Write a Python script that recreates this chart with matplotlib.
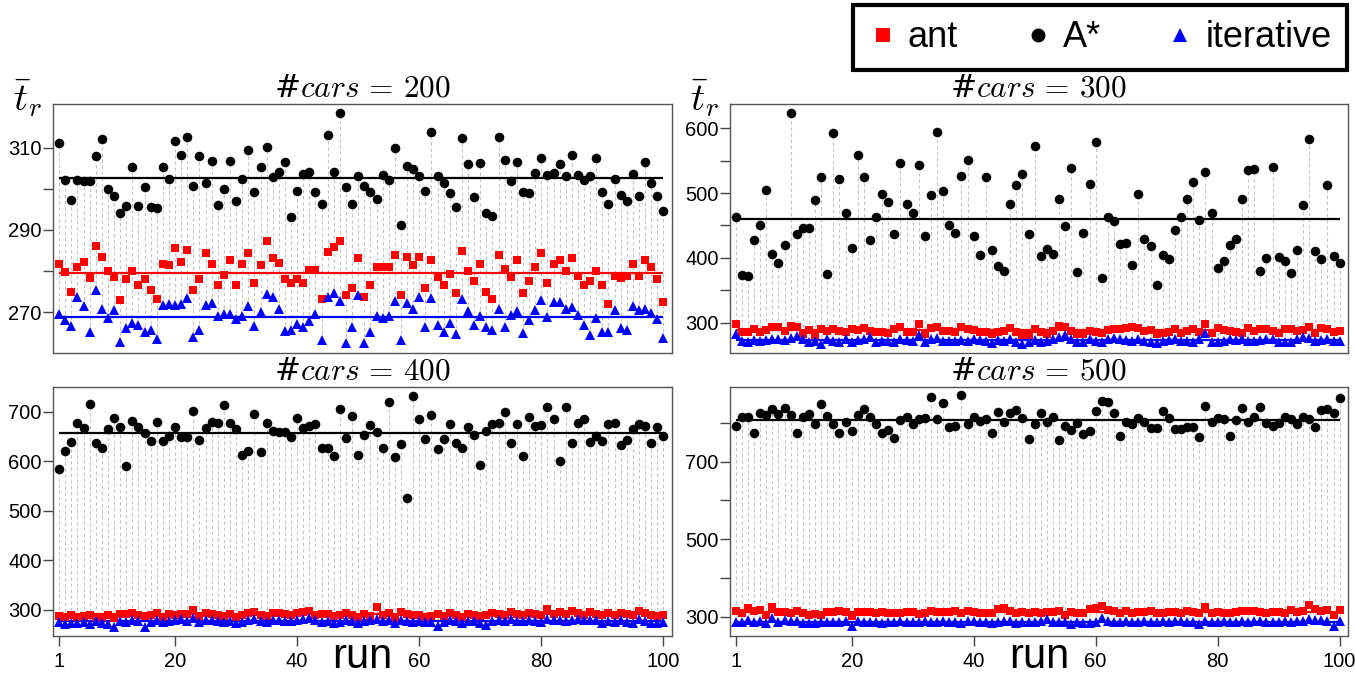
import numpy as np
import matplotlib
matplotlib.use("Agg")
import matplotlib.pyplot as plt
from matplotlib.lines import Line2D

plt.rcParams['font.family'] = ['Liberation Sans', 'DejaVu Sans']
plt.rcParams['mathtext.fontset'] = 'cm'

runs = np.arange(1, 101)

# ---- #cars = 200 ----
ant_200 = [281.7, 279.7, 275.0, 281.0, 282.1, 278.2, 286.2, 283.5, 280.1, 278.5,
           273.0, 278.0, 280.1, 276.6, 278.0, 275.5, 273.3, 281.8, 281.4, 285.6,
           282.1, 285.2, 275.5, 278.0, 284.3, 281.6, 276.7, 279.1, 282.8, 276.5,
           281.8, 284.3, 277.0, 281.4, 287.3, 283.2, 282.0, 278.0, 277.2, 278.0,
           277.2, 280.2, 280.2, 273.3, 284.6, 285.9, 287.4, 274.1, 276.0, 283.1,
           273.6, 276.5, 280.9, 280.9, 280.9, 283.8, 274.3, 283.5, 281.4, 283.5,
           276.0, 282.6, 278.5, 276.5, 279.2, 274.6, 284.8, 279.9, 277.7, 281.6,
           274.8, 273.3, 284.0, 280.6, 278.5, 282.6, 274.6, 277.7, 281.1, 284.3,
           277.0, 281.8, 282.8, 279.9, 283.3, 278.7, 276.7, 277.5, 279.9, 276.5,
           272.1, 278.9, 278.3, 278.7, 281.8, 278.7, 282.8, 280.9, 278.0, 272.4]
astar_200 = [311.1, 302.1, 297.2, 302.1, 302.0, 302.0, 308.0, 312.0, 300.0, 298.2,
             294.2, 295.8, 305.2, 295.9, 300.4, 295.6, 295.4, 305.4, 302.3, 311.7,
             308.1, 312.5, 300.6, 307.9, 301.3, 306.8, 296.1, 299.9, 306.8, 297.1,
             302.4, 309.3, 299.2, 305.4, 310.2, 302.9, 304.1, 306.4, 293.2, 299.5,
             303.5, 304.1, 299.1, 296.3, 313.1, 304.0, 318.3, 300.5, 296.4, 303.1,
             300.7, 299.2, 297.5, 303.4, 302.2, 310.0, 291.3, 305.6, 304.8, 303.0,
             299.4, 313.7, 303.0, 301.5, 298.9, 295.6, 312.3, 306.0, 297.9, 306.2,
             294.1, 293.4, 312.5, 307.1, 302.0, 306.4, 299.3, 298.9, 303.9, 307.5,
             303.4, 303.8, 306.0, 303.0, 308.2, 303.4, 302.1, 303.2, 307.5, 299.3,
             296.4, 302.4, 298.6, 297.0, 303.5, 298.3, 306.4, 301.3, 298.2, 294.6]
iter_200 = [269.5, 268.0, 266.6, 273.6, 271.5, 265.2, 275.5, 270.8, 268.5, 270.5,
            262.8, 266.1, 267.5, 267.0, 265.2, 265.7, 263.6, 271.8, 272.0, 271.8,
            272.1, 273.4, 264.0, 265.7, 271.8, 272.2, 269.1, 269.5, 269.6, 268.3,
            269.1, 271.4, 266.7, 270.1, 274.5, 273.8, 270.9, 265.4, 265.7, 267.2,
            266.4, 267.8, 269.5, 263.2, 273.6, 274.6, 272.7, 262.5, 266.5, 274.2,
            262.5, 265.2, 269.2, 268.7, 269.1, 272.7, 263.3, 272.2, 270.8, 273.8,
            266.3, 273.4, 266.8, 265.3, 267.5, 264.6, 273.3, 270.2, 267.0, 269.2,
            266.3, 265.7, 270.8, 266.5, 269.4, 270.3, 264.9, 268.2, 270.6, 272.9,
            268.8, 272.5, 272.6, 270.7, 271.3, 269.4, 266.9, 264.5, 268.6, 265.2,
            265.3, 270.5, 266.1, 265.7, 271.5, 270.6, 270.8, 269.9, 268.4, 263.7]

# ---- #cars = 300 ----
ant_300 = [298.0, 286.7, 285.7, 290.8, 286.7, 289.3, 294.4, 293.4, 287.7, 295.9,
           294.4, 283.6, 288.8, 281.6, 290.3, 287.7, 290.3, 287.7, 286.7, 290.3,
           288.8, 291.8, 287.7, 285.7, 285.7, 284.1, 290.3, 294.4, 286.7, 286.7,
           298.0, 283.6, 291.8, 293.4, 287.7, 287.7, 286.7, 294.4, 290.3, 289.3,
           286.7, 286.7, 283.6, 286.7, 287.7, 291.8, 286.7, 282.0, 281.0, 290.0,
           286.0, 283.0, 288.0, 295.0, 294.0, 288.0, 283.0, 283.0, 288.0, 286.0,
           284.0, 289.0, 291.0, 291.0, 292.0, 294.0, 293.0, 287.0, 289.0, 283.0,
           284.0, 286.0, 290.0, 284.0, 287.0, 290.0, 286.0, 298.0, 285.0, 292.0,
           289.0, 288.0, 286.0, 284.0, 293.0, 287.0, 290.0, 291.0, 288.0, 285.0,
           290.0, 290.0, 287.0, 289.0, 294.0, 285.0, 292.0, 290.0, 286.0, 288.0]
astar_300 = [462.9, 373.5, 372.5, 427.9, 450.5, 504.5, 406.9, 393.0, 419.7, 623.1,
             436.2, 445.4, 445.4, 488.5, 525.0, 376.1, 591.8, 521.9, 469.0, 416.1,
             558.9, 525.0, 427.4, 462.9, 498.3, 486.5, 436.2, 546.6, 482.4, 469.0,
             543.0, 433.1, 496.3, 593.8, 503.4, 451.1, 437.7, 526.6, 551.2, 433.6,
             404.8, 524.5, 412.5, 388.4, 379.7, 483.4, 512.2, 529.1, 436.2, 571.8,
             402.3, 414.6, 406.9, 491.1, 449.5, 537.9, 378.1, 439.2, 514.2, 577.9,
             368.9, 462.4, 456.2, 421.8, 423.8, 389.4, 497.8, 429.0, 418.7, 358.1,
             404.8, 398.2, 443.3, 462.9, 490.6, 517.3, 457.7, 531.7, 469.5, 384.3,
             396.1, 420.2, 429.0, 490.6, 535.3, 536.3, 380.2, 400.7, 539.4, 401.7,
             395.1, 377.6, 412.5, 480.8, 582.5, 411.5, 398.7, 512.7, 403.3, 392.5]
iter_300 = [283, 272, 271, 274, 273, 274, 275, 276, 274, 277,
            280, 276, 270, 273, 268, 275, 272, 271, 276, 270,
            274, 275, 279, 271, 273, 272, 270, 276, 274, 273,
            282, 271, 276, 277, 272, 272, 273, 274, 272, 275,
            274, 273, 269, 274, 273, 276, 270, 268, 270, 274,
            271, 272, 276, 279, 282, 275, 271, 270, 275, 272,
            270, 276, 277, 275, 274, 272, 276, 273, 270, 269,
            272, 274, 276, 273, 272, 271, 275, 284, 271, 270,
            272, 275, 274, 276, 273, 272, 274, 276, 275, 271,
            270, 270, 275, 279, 277, 273, 274, 275, 272, 273]

# ---- #cars = 400 ----
ant_400 = [288, 285, 289, 286, 287, 290, 285, 286, 289, 283,
           292, 291, 293, 289, 287, 290, 293, 286, 291, 290,
           291, 292, 300, 287, 293, 291, 290, 287, 292, 286,
           289, 293, 296, 290, 287, 293, 294, 291, 290, 293,
           295, 297, 290, 292, 292, 288, 290, 293, 289, 286,
           292, 288, 306, 290, 294, 284, 296, 291, 289, 290,
           285, 288, 291, 287, 293, 290, 286, 292, 289, 288,
           290, 293, 292, 289, 296, 291, 289, 293, 292, 290,
           302, 291, 296, 292, 297, 294, 290, 295, 292, 290,
           293, 290, 294, 292, 289, 297, 293, 290, 288, 289]
astar_400 = [584.2, 621.2, 638.7, 676.4, 667.0, 715.5, 637.4, 626.6, 664.3, 687.2,
             668.4, 590.2, 681.8, 668.4, 657.6, 640.7, 679.1, 640.7, 650.2, 668.4,
             649.5, 649.5, 702.0, 642.1, 667.7, 679.1, 676.4, 713.5, 676.4, 664.3,
             611.8, 619.9, 696.0, 617.8, 676.4, 661.6, 658.2, 659.6, 648.1, 686.5,
             667.7, 670.4, 674.4, 627.3, 625.9, 611.1, 706.1, 647.5, 691.0, 613.0,
             652.9, 673.7, 659.6, 627.3, 718.9, 608.4, 634.0, 525.6, 732.3, 685.9,
             644.8, 693.9, 625.3, 644.8, 675.1, 636.0, 625.9, 669.0, 653.5, 592.3,
             661.0, 675.1, 677.1, 699.3, 636.7, 675.8, 611.1, 689.9, 671.7, 672.4,
             709.4, 685.2, 601.0, 708.8, 636.7, 677.1, 684.5, 639.4, 651.5, 640.1,
             675.1, 676.4, 632.7, 643.4, 665.0, 674.4, 671.7, 636.0, 669.7, 650.2]
iter_400 = [276, 272, 273, 274, 275, 271, 278, 274, 272, 266,
            277, 276, 279, 277, 266, 276, 280, 275, 278, 279,
            281, 278, 283, 275, 279, 280, 277, 275, 278, 274,
            276, 279, 281, 277, 276, 280, 279, 278, 277, 280,
            281, 283, 279, 276, 277, 274, 275, 280, 277, 274,
            278, 280, 281, 278, 280, 273, 279, 277, 276, 278,
            275, 276, 268, 276, 279, 277, 274, 278, 277, 274,
            269, 278, 280, 278, 281, 278, 277, 279, 278, 276,
            281, 279, 279, 278, 280, 281, 279, 280, 279, 274,
            278, 276, 279, 275, 274, 282, 278, 274, 273, 275]

# ---- #cars = 500 ----
ant_500 = [316, 311, 323, 316, 318, 305, 326, 312, 313, 311,
           315, 309, 306, 308, 306, 312, 313, 314, 312, 302,
           313, 313, 312, 311, 312, 310, 309, 311, 313, 312,
           308, 311, 314, 312, 313, 313, 316, 310, 315, 312,
           311, 310, 309, 320, 322, 314, 309, 312, 309, 313,
           310, 313, 313, 315, 306, 313, 311, 311, 320, 322,
           327, 318, 315, 310, 314, 311, 312, 313, 316, 311,
           310, 312, 313, 310, 314, 312, 310, 325, 311, 312,
           311, 310, 312, 316, 315, 315, 313, 311, 312, 313,
           310, 318, 312, 316, 330, 320, 315, 317, 306, 318]
astar_500 = [791.1, 814.3, 815.1, 773.0, 825.4, 820.3, 834.9, 822.0, 838.3, 820.3,
             773.9, 815.1, 822.9, 796.2, 847.8, 818.6, 797.1, 773.9, 801.4, 779.9,
             819.4, 836.6, 816.0, 796.2, 773.0, 781.6, 761.0, 808.2, 814.3, 797.1,
             810.8, 811.7, 866.7, 810.0, 852.1, 790.2, 791.9, 871.0, 797.1, 815.1,
             804.0, 809.1, 774.7, 827.1, 802.2, 824.6, 833.2, 813.4, 757.6, 797.1,
             824.6, 803.1, 815.1, 755.8, 792.8, 781.6, 798.8, 771.3, 779.0, 830.6,
             857.2, 854.6, 826.3, 767.0, 803.1, 797.1, 813.4, 803.1, 785.9, 785.9,
             830.6, 813.4, 783.3, 783.3, 788.5, 789.3, 762.7, 844.3, 802.2, 811.7,
             809.1, 765.3, 807.4, 837.5, 803.1, 816.0, 840.9, 799.7, 792.8, 798.8,
             814.3, 809.1, 797.9, 816.0, 810.0, 790.2, 833.2, 834.9, 824.6, 863.2]
iter_500 = [286, 287, 292, 287, 289, 283, 298, 288, 291, 289,
            290, 285, 284, 285, 286, 287, 288, 287, 289, 277,
            289, 287, 288, 286, 285, 286, 287, 290, 286, 288,
            287, 289, 286, 288, 290, 287, 286, 283, 290, 289,
            287, 286, 285, 288, 290, 289, 285, 287, 286, 288,
            290, 294, 286, 288, 288, 282, 286, 283, 283, 288,
            297, 290, 288, 287, 290, 288, 287, 290, 287, 286,
            289, 287, 289, 290, 288, 286, 281, 290, 288, 287,
            289, 286, 287, 290, 288, 289, 290, 287, 287, 288,
            289, 288, 290, 289, 295, 292, 291, 289, 277, 290]

panels = [
    dict(cars=200, ant=ant_200, astar=astar_200, it=iter_200,
         rect=[0.0391, 0.4786, 0.4568, 0.3678], ylim=(260.1, 320.6),
         major=[270, 290, 310], minor=[280, 300], top=True),
    dict(cars=300, ant=ant_300, astar=astar_300, it=iter_300,
         rect=[0.5385, 0.4786, 0.4565, 0.3678], ylim=(253.8, 637.0),
         major=[300, 400, 500, 600], minor=[350, 450, 550], top=True),
    dict(cars=400, ant=ant_400, astar=astar_400, it=iter_400,
         rect=[0.0391, 0.0606, 0.4568, 0.3682], ylim=(246.9, 750.5),
         major=[300, 400, 500, 600, 700], minor=[], top=False),
    dict(cars=500, ant=ant_500, astar=astar_500, it=iter_500,
         rect=[0.5385, 0.0606, 0.4565, 0.3682], ylim=(250.7, 893.3),
         major=[300, 500, 700], minor=[400, 600, 800], top=False),
]

fig = plt.figure(figsize=(13.55, 6.77), dpi=100)

for p in panels:
    ax = fig.add_axes(p['rect'])
    ant = np.array(p['ant'], dtype=float)
    astar = np.array(p['astar'], dtype=float)
    it = np.array(p['it'], dtype=float)
    lo = np.minimum.reduce([ant, astar, it])
    hi = np.maximum.reduce([ant, astar, it])

    # dashed connectors per run, mean lines, then the three series
    ax.vlines(runs, lo, hi, colors='#c4c4c4', linestyles=(0, (3, 2.5)),
              linewidth=0.8, zorder=1)
    ax.hlines(ant.mean(), runs[0], runs[-1], color='red', lw=1.6, zorder=2)
    ax.hlines(astar.mean(), runs[0], runs[-1], color='black', lw=1.6, zorder=2)
    ax.hlines(it.mean(), runs[0], runs[-1], color='blue', lw=1.6, zorder=2)
    ax.plot(runs, ant, 's', color='red', ms=6.0, mew=0, zorder=3)
    ax.plot(runs, astar, 'o', color='black', ms=6.9, mew=0, zorder=3)
    ax.plot(runs, it, '^', color='blue', ms=6.6, mew=0, zorder=3)

    ax.set_xlim(0, 101.4)
    ax.set_ylim(*p['ylim'])
    ax.set_yticks(p['major'])
    ax.set_yticks(p['minor'], minor=True)
    ax.tick_params(axis='y', which='both', direction='out', length=7.5,
                   width=1, color='#444444', labelsize=14.5, pad=0.5)
    for s in ax.spines.values():
        s.set_color('#555555')
        s.set_linewidth(1.0)

    if p['top']:
        ax.tick_params(axis='x', bottom=False, labelbottom=False)
        ax.text(-0.041, 1.022, r'$\bar{t}_r$', transform=ax.transAxes,
                fontsize=28, ha='center', va='center')
    else:
        ax.set_xticks([1, 20, 40, 60, 80, 100])
        ax.tick_params(axis='x', direction='out', length=7.5, width=1,
                       color='#444444', labelsize=14.5, pad=4)
        ax.text(0.5, -0.165, 'run', transform=ax.transAxes, fontsize=30,
                ha='center', va='bottom')

    ax.set_title('#' + r'$cars\,=\,%d$' % p['cars'], fontsize=22.5, pad=2,
                 family=['DejaVu Serif'])

handles = [Line2D([], [], ls='none', marker='s', color='red', ms=9.5, mew=0),
           Line2D([], [], ls='none', marker='o', color='black', ms=10, mew=0),
           Line2D([], [], ls='none', marker='^', color='blue', ms=10, mew=0)]
leg = fig.legend(handles, ['ant', 'A*', 'iterative'], ncol=3,
                 loc='upper right', bbox_to_anchor=(1347 / 1355, 1 - 5 / 677),
                 fontsize=26, frameon=True, fancybox=False, edgecolor='black',
                 framealpha=1, borderpad=0.42, handletextpad=0.3,
                 columnspacing=1.8, handlelength=0.8, borderaxespad=0)
leg.get_frame().set_linewidth(3)

fig.savefig('out.png', dpi=100)
